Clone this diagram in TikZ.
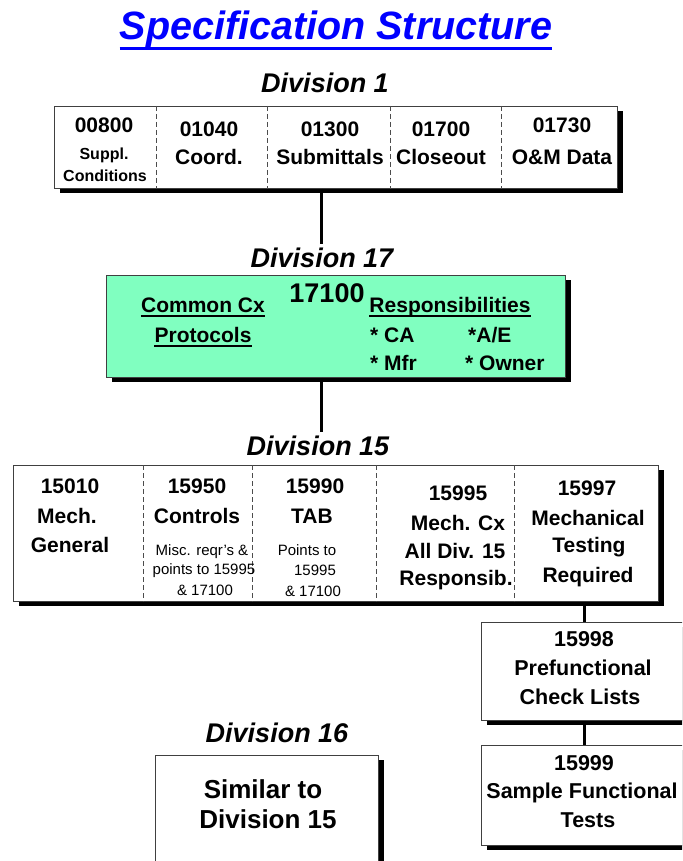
\documentclass[tikz,border=0pt]{standalone}
\usepackage{fontspec}
\setmainfont{Liberation Sans}
\usetikzlibrary{shadows}
\definecolor{cxgreen}{RGB}{128,255,192}
\definecolor{titleblue}{RGB}{0,0,255}
\newcommand{\fs}[1]{\fontsize{#1}{#1}\selectfont}

\begin{document}
\begin{tikzpicture}[x=1pt, y=-1pt,
  every node/.style={inner sep=0pt},
  box/.style={draw=black!75, line width=0.9pt, fill=white, anchor=north west,
    drop shadow={shadow xshift=5.5pt, shadow yshift=-5pt, fill=black, opacity=1}},
  sep/.style={black!70, line width=0.7pt, dash pattern=on 5pt off 3pt},
  link/.style={line width=3pt, shorten >=3pt},
  uline/.style={line width=2.2pt},
  head/.style={font=\fs{27}\bfseries\itshape, anchor=base},
  big/.style={font=\fs{21}\bfseries, anchor=base},
  sml/.style={font=\fs{16}\bfseries, anchor=base},
  note/.style={font=\fs{15}, anchor=base}]
  \path[use as bounding box, clip] (0,0) rectangle (682,861);

  % title
  \node[head, font=\fs{39.5}\bfseries\itshape, text=titleblue] (title) at (336,40) {Specification Structure};
  \draw[titleblue, line width=3.3pt] ([yshift=-8.3pt]title.base west) -- ([yshift=-8.3pt]title.base east);

  % boxes
  \node[head] (h1) at (325,93) {Division 1};
  \node[box, minimum width=563pt, minimum height=82pt] (div1) at (54,106) {};
  \node[head] (h17) at (322,267) {Division 17};
  \node[box, fill=cxgreen, minimum width=459pt, minimum height=102pt] (div17) at (106,275) {};
  \node[head] (h15) at (318,455) {Division 15};
  \node[box, minimum width=645pt, minimum height=136pt] (div15) at (13,465) {};
  \node[box, minimum width=210pt, minimum height=98pt] (f98) at (481,622) {};
  \node[box, minimum width=210pt, minimum height=100pt] (f99) at (481,745) {};
  \node[head] (h16) at (277,742) {Division 16};
  \node[box, minimum width=223pt, minimum height=130pt] (div16) at (155,755) {};

  \foreach \x in {156,267,390,501}
    \draw[sep] (div1.north -| \x,0) -- (div1.south -| \x,0);
  \foreach \x in {143,252,376,514}
    \draw[sep] (div15.north -| \x,0) -- (div15.south -| \x,0);

  % links
  \coordinate (spine) at (321,0);
  \coordinate (drop) at (584,0);
  \draw[link] (div1.south -| spine) -- (h17.north -| spine);
  \draw[link] (div17.south -| spine) -- (h15.north -| spine);
  \draw[link, shorten >=0pt] (div15.south -| drop) -- (f98.north -| drop);
  \draw[link, shorten >=0pt] (f98.south -| drop) -- (f99.north -| drop);

  % division 1
  \node[big] (n00800) at (104,133) {00800};
  \node[sml] (suppl) at (104,160) {Suppl.};
  \node[sml] (cond) at (105,182) {Conditions};
  \foreach \x/\y/\num/\name in {209/137/01040/Coord., 330/137/01300/Submittals,
                                441/137/01700/Closeout, 562/133/01730/O\&M Data} {
    \node[big] (n\num) at (\x,\y) {\num};
    \node[big] (t\num) at (\x,164.5) {\name};
  }

  % division 17
  \node[head, font=\fs{27}\bfseries] (n17100) at (327,302) {17100};
  \node[big] (cmn) at (203,312) {Common Cx};
  \node[big] (prot) at (203,342) {Protocols};
  \node[big] (resp) at (450,312) {Responsibilities};
  \foreach \n in {cmn,prot,resp}
    \draw[uline] ([yshift=-4pt]\n.base west) -- ([yshift=-4pt]\n.base east);
  \node[big, anchor=base west] (ca) at (370,342) {* CA};
  \node[big, anchor=base west] (ae) at (468,342) {*A/E};
  \node[big, anchor=base west] (mfr) at (370,370) {* Mfr};
  \node[big, anchor=base west] (own) at (465,370) {* Owner};

  % division 15
  \node[big] (n15010) at (70,493) {15010};
  \node[big] (mech) at (67,523) {Mech.};
  \node[big] (gen) at (70,552) {General};
  \node[big] (n15950) at (197,493) {15950};
  \node[big] (ctrl) at (197,523) {Controls};
  \node[note] (misc) at (202,555) {Misc. reqr's \&};
  \node[note] (pts) at (204,574) {points to 15995};
  \node[note] (amp) at (205,595) {\& 17100};
  \node[big] (n15990) at (315,493) {15990};
  \node[big] (tab) at (312,523) {TAB};
  \node[note] (ptb) at (307,555) {Points to};
  \node[note] (ptc) at (315,575) {15995};
  \node[note] (ptd) at (313,596) {\& 17100};
  \node[big] (n15995) at (458,500) {15995};
  \node[big] (mcx) at (458,530) {Mech. Cx};
  \node[big] (all) at (455,558) {All Div. 15};
  \node[big] (rsp) at (456,585) {Responsib.};
  \node[big] (n15997) at (587,495) {15997};
  \node[big] (mchl) at (588,525) {Mechanical};
  \node[big] (test) at (589,552) {Testing};
  \node[big] (req) at (588,582) {Required};

  % 15998, 15999
  \node[big, font=\fs{21.5}\bfseries] (n15998) at (584,646) {15998};
  \node[big, font=\fs{21.5}\bfseries] (pref) at (583,675) {Prefunctional};
  \node[big, font=\fs{21.5}\bfseries] (chk) at (580,704) {Check Lists};
  \node[big, font=\fs{21.5}\bfseries] (n15999) at (584,770) {15999};
  \node[big, font=\fs{21.5}\bfseries] (smp) at (582,798) {Sample Functional};
  \node[big, font=\fs{21.5}\bfseries] (tst) at (588,827) {Tests};

  % division 16
  \node[head, font=\fs{26}\bfseries] (sim) at (263,798) {Similar to};
  \node[head, font=\fs{26}\bfseries] (d15) at (268,828) {Division 15};
\end{tikzpicture}
\end{document}
